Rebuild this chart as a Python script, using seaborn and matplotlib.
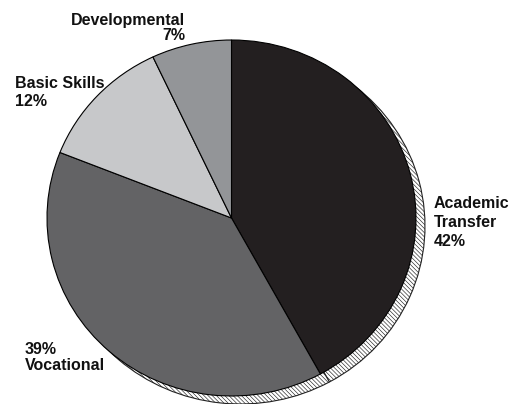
import matplotlib
matplotlib.use("Agg")
import matplotlib.pyplot as plt
import seaborn as sns

# Share of enrolment by programme type (percent)
categories = ["Academic\nTransfer", "Vocational", "Basic Skills", "Developmental"]
shares = [42, 39, 12, 7]
slice_colors = ["#231f20", "#636365", "#c7c8ca", "#939598"]

sns.set_theme(style="white")
plt.rcParams["font.family"] = ["Liberation Sans", "DejaVu Sans"]
plt.rcParams["hatch.linewidth"] = 0.45

W, H = 517, 404
fig = plt.figure(figsize=(W / 100, H / 100), dpi=100)
ax = fig.add_axes([0, 0, 1, 1])

# pie geometry in pixels (centre and radii)
cx, cy, rx, ry = 231.5, 218.0, 184.5, 178.0
shadow_dx, shadow_dy = 9.0, 8.0


def to_data(x, y):
    return (x - cx) / rx, (cy - y) / ry


# hatched drop shadow behind the pie
ax.pie(shares, startangle=90, counterclock=False,
       center=(shadow_dx / rx, -shadow_dy / ry), radius=1.0,
       colors=["white"] * len(shares),
       wedgeprops=dict(edgecolor="#222222", linewidth=0.8,
                       hatch="\\" * 8))

ax.pie(shares, startangle=90, counterclock=False, radius=1.0,
       colors=slice_colors,
       wedgeprops=dict(edgecolor="black", linewidth=0.8))

ax.set_aspect("auto")
ax.set_xlim((0 - cx) / rx, (W - cx) / rx)
ax.set_ylim((cy - H) / ry, cy / ry)
ax.axis("off")

fs = 11.5
lp_px = 0.94 * fs * 100 / 72

# label placement: (x, y of first cap top, alignment, line pitch px, percent first)
placements = [
    (434, 197, "left", 20, False),
    (25, 342, "left", 17, True),
    (15, 76, "left", 20, False),
    (185, 13, "right", 16, False),
]

for cat, val, (x, y, ha, pitch, pct_first) in zip(categories, shares, placements):
    text = f"{val}%\n{cat}" if pct_first else f"{cat}\n{val}%"
    tx, ty = to_data(x, y - 0.5)
    ax.text(tx, ty, text, ha=ha, va="top", ma=ha, fontsize=fs,
            fontweight="bold", color="#111111",
            linespacing=pitch / lp_px)

fig.savefig("out.png", dpi=100)
